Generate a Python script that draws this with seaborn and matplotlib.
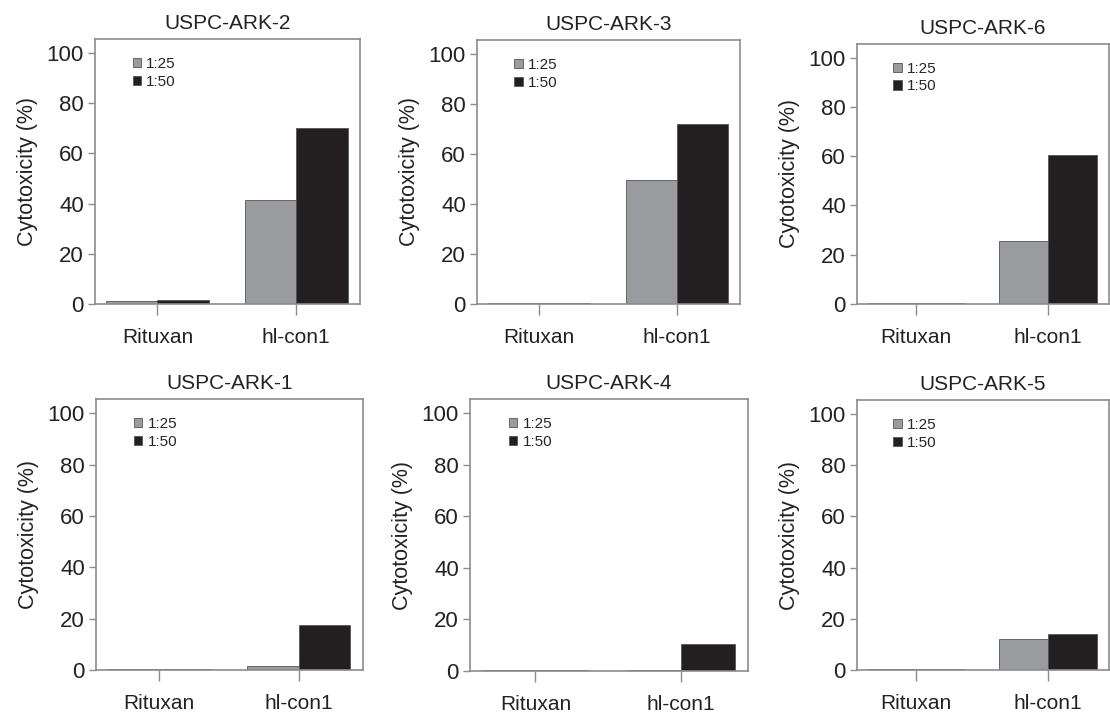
import pandas as pd
import seaborn as sns
import matplotlib.pyplot as plt

cell_lines = ["USPC-ARK-2", "USPC-ARK-3", "USPC-ARK-6",
              "USPC-ARK-1", "USPC-ARK-4", "USPC-ARK-5"]
treatments = ["Rituxan", "hl-con1"]
ratios = ["1:25", "1:50"]
ratio_25 = [[1.0, 41.5], [0.5, 49.5], [0.4, 25.5], [0.4, 1.5], [0.3, 0.3], [0.4, 12.0]]
ratio_50 = [[1.5, 70.0], [0.5, 72.0], [0.4, 60.5], [0.4, 17.5], [0.3, 10.5], [0.4, 14.0]]

palette = {"1:25": "#9a9b9e", "1:50": "#231f20"}

rows = []
for i, line in enumerate(cell_lines):
    for j, t in enumerate(treatments):
        rows.append({"line": line, "Treatment": t, "Ratio": "1:25", "value": ratio_25[i][j]})
        rows.append({"line": line, "Treatment": t, "Ratio": "1:50", "value": ratio_50[i][j]})
data = pd.DataFrame(rows)

sns.set_style("white")
plt.rcParams["font.family"] = ["Liberation Sans", "DejaVu Sans"]

W, H = 1110, 713
# axes boxes in pixels: left, top, right, bottom
boxes = [(95, 39, 360, 304), (477, 40, 740, 304), (857, 44, 1109, 304),
         (96, 399, 363, 670), (470, 399, 748, 671), (857, 400, 1109, 670)]

fig = plt.figure(figsize=(W / 100, H / 100), dpi=100)
for line, (l, t, r, b) in zip(cell_lines, boxes):
    ax = fig.add_axes([l / W, 1 - b / H, (r - l) / W, (b - t) / H])
    df = data[data["line"] == line]
    sns.barplot(data=df, x="Treatment", y="value", hue="Ratio", order=treatments,
                hue_order=ratios, palette=palette, width=0.74, ax=ax,
                edgecolor="#555555", linewidth=0.6, saturation=1, errorbar=None)
    ax.set_xlim(-0.45, 1.46)
    ax.set_ylim(0, 105.5)
    ax.set_yticks([0, 20, 40, 60, 80, 100])
    ax.set_xlabel("")
    ax.set_ylabel("Cytotoxicity (%)", fontsize=15.5, color="#222222", labelpad=6)
    ax.set_title(line, fontsize=15, color="#222222", pad=7)
    for s in ax.spines.values():
        s.set_color("#8c8c8c")
        s.set_linewidth(1.2)
    ax.tick_params(axis="y", length=5, width=1, color="#8c8c8c", labelsize=16,
                   labelcolor="#222222", pad=3, left=True)
    ax.tick_params(axis="x", length=8, width=1, color="#8c8c8c", labelsize=15,
                   labelcolor="#222222", pad=9, bottom=True)
    ax.legend(title=None, loc="upper left", bbox_to_anchor=(0.09, 0.985), frameon=False,
              fontsize=11, handlelength=0.55, handleheight=0.55, handletextpad=0.35,
              labelspacing=0.25)

plt.savefig("out.png", dpi=100)
